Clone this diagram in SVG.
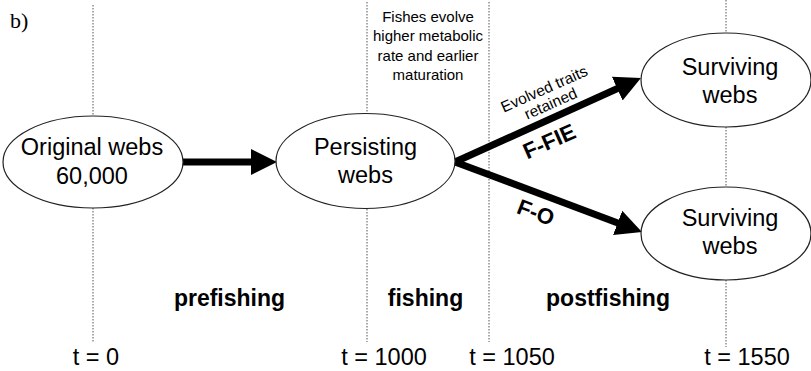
<svg xmlns="http://www.w3.org/2000/svg" width="811" height="371" viewBox="0 0 811 371">
<style>
.bg{fill:#fff}
.dot{stroke:#555;stroke-width:1;stroke-dasharray:1.5 1.5;fill:none}
.node{fill:#fff;stroke:#222;stroke-width:1.2}
.t{font-family:"Liberation Sans",Arial,sans-serif;fill:#000;text-anchor:middle}
.big{font-size:23.5px}
.small{font-size:15px}
.ev{font-size:15.5px}
.bold{font-weight:bold;font-size:23px}
.lab{font-weight:bold;font-size:22px}
.conn{stroke:#000;stroke-width:7;fill:none}
</style>
<defs>
<marker id="ah" viewBox="0 0 10 10" markerWidth="26" markerHeight="27" markerUnits="userSpaceOnUse" refX="5" refY="5" orient="auto">
<path d="M0,0 L10,5 L0,10 z" fill="#000"/>
</marker>
</defs>
<rect class="bg" x="0" y="0" width="811" height="371"/>
<text x="10" y="28" font-family="'Liberation Serif','Times New Roman',serif" font-size="22">b)</text>
<g id="timelines">
<line class="dot" x1="93" y1="5" x2="93" y2="116"/>
<line class="dot" x1="93" y1="208" x2="93" y2="342"/>
<line class="dot" x1="367" y1="2" x2="367" y2="114"/>
<line class="dot" x1="367" y1="209" x2="367" y2="342"/>
<line class="dot" x1="489" y1="2" x2="489" y2="342"/>
<line class="dot" x1="726" y1="0" x2="726" y2="33"/>
<line class="dot" x1="726" y1="127" x2="726" y2="187"/>
<line class="dot" x1="726" y1="280" x2="726" y2="347"/>
</g>
<g id="connectors">
<line class="conn" x1="183" y1="162" x2="264" y2="162" marker-end="url(#ah)"/>
<line class="conn" x1="455" y1="162" x2="629.1" y2="83.3" marker-end="url(#ah)"/>
<line class="conn" x1="455" y1="162" x2="629.8" y2="227.5" marker-end="url(#ah)"/>
<text class="t ev" transform="translate(547.5,96.5) rotate(-24)"><tspan x="0" y="-3">Evolved traits</tspan><tspan x="0" y="13">retained</tspan></text>
<text class="t lab" transform="translate(549,141) rotate(-24)" y="8">F-FIE</text>
<text class="t lab" transform="translate(536,212) rotate(21)" y="8">F-O</text>
</g>
<g id="original">
<ellipse class="node" cx="93" cy="162" rx="90" ry="46"/>
<text class="t big" x="92" y="155">Original webs</text>
<text class="t big" x="92" y="184">60,000</text>
</g>
<g id="persisting">
<ellipse class="node" cx="365.5" cy="161" rx="89.5" ry="47.5"/>
<text class="t big" x="365.5" y="155">Persisting</text>
<text class="t big" x="365.5" y="183">webs</text>
</g>
<g id="surviving1">
<ellipse class="node" cx="726" cy="80" rx="85" ry="47"/>
<text class="t big" x="730" y="75">Surviving</text>
<text class="t big" x="730" y="103">webs</text>
</g>
<g id="surviving2">
<ellipse class="node" cx="726" cy="233.5" rx="85" ry="46.5"/>
<text class="t big" x="730" y="226">Surviving</text>
<text class="t big" x="730" y="254">webs</text>
</g>
<g id="note">
<text class="t small" x="428" y="22">Fishes evolve</text>
<text class="t small" x="428" y="41">higher metabolic</text>
<text class="t small" x="428" y="61">rate and earlier</text>
<text class="t small" x="428" y="80">maturation</text>
</g>
<g id="phases">
<text class="t bold" x="229.5" y="306">prefishing</text>
<text class="t bold" x="425.5" y="306">fishing</text>
<text class="t bold" x="608" y="306">postfishing</text>
</g>
<g id="times">
<text class="t big" x="96" y="365">t = 0</text>
<text class="t big" x="384" y="365">t = 1000</text>
<text class="t big" x="512" y="365">t = 1050</text>
<text class="t big" x="747" y="365">t = 1550</text>
</g>
</svg>
